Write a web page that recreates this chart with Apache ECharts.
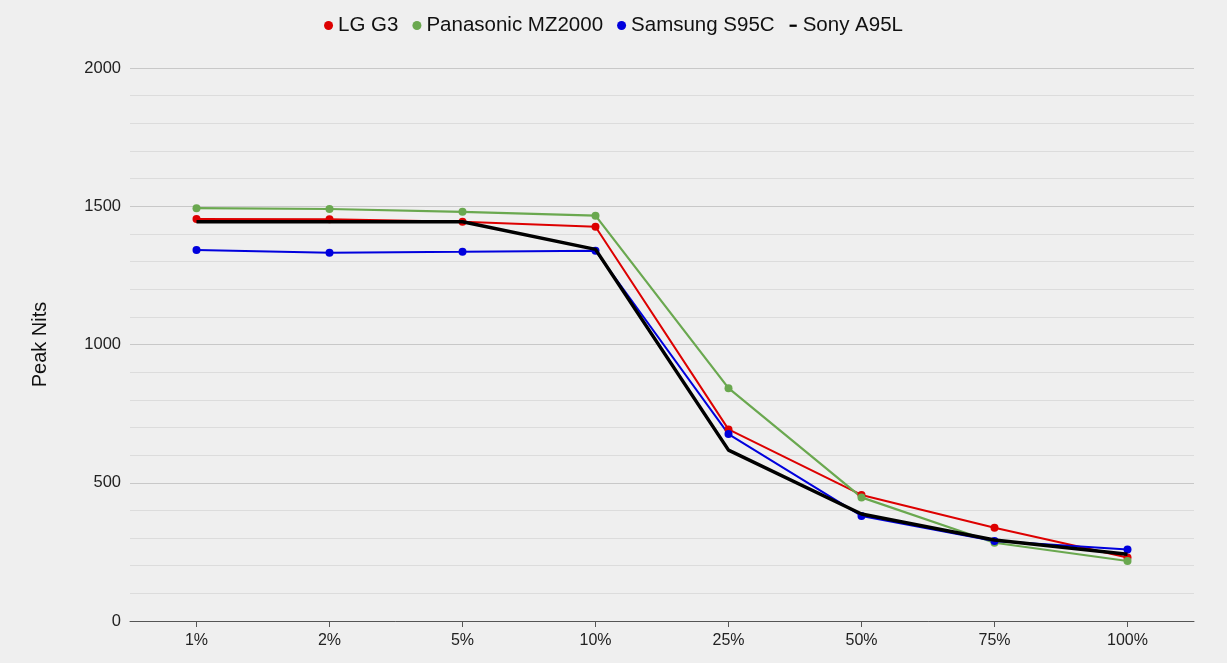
<!DOCTYPE html>
<html><head><meta charset="utf-8">
<script src="https://cdn.jsdelivr.net/npm/echarts@6/dist/echarts.min.js"></script>
<style>html,body{margin:0;padding:0;background:#efefef;}#c{width:1227px;height:663px;}</style>
</head><body><div id="c"></div>
<script>
const categories = ['1%','2%','5%','10%','25%','50%','75%','100%'];
const lgG3 = [1454,1453,1444,1426,693,456,337,230];
const panasonicMZ2000 = [1493,1490,1480,1466,842,447,283,217];
const samsungS95C = [1342,1332,1335,1339,676,380,289,259];
const sonyA95L = [1444,1444,1444,1344,618,387,293,241];
const yTicks = [0,500,1000,1500,2000];

const chart = echarts.init(document.getElementById('c'));
function s(name, data, color, width, marker){
  return {name, type:'line', data, symbol: marker?'circle':'none', symbolSize:8,
    showSymbol: marker, lineStyle:{color, width}, itemStyle:{color}, z: marker?3:4};
}
chart.setOption({
  backgroundColor:'#efefef',
  animation:false,
  legend:{top:10, left:'center', itemWidth:9, itemHeight:9, itemGap:14,
    textStyle:{fontFamily:'Liberation Sans, Arial', fontSize:20.5, color:'#111'},
    data:[{name:'LG G3',icon:'circle'},{name:'Panasonic MZ2000',icon:'circle'},{name:'Samsung S95C',icon:'circle'},
      {name:'Sony A95L',icon:'path://M0,0M10,10M1,4H9V6.5H1Z'}]},
  grid:{left:130,right:33,top:68,bottom:42},
  xAxis:{type:'category', data:categories, boundaryGap:true,
    axisLine:{show:true,lineStyle:{color:'#555',width:1}},
    axisTick:{show:true,alignWithLabel:true,length:6,lineStyle:{color:'#555'}},
    axisLabel:{fontFamily:'Liberation Sans, Arial',fontSize:16,color:'#222',margin:12}},
  yAxis:{type:'value', min:0, max:2000, interval:500, name:'Peak Nits', nameLocation:'middle', nameGap:80,
    nameTextStyle:{fontFamily:'Liberation Sans, Arial',fontSize:20,color:'#111'},
    axisLine:{show:false}, axisTick:{show:false},
    axisLabel:{fontFamily:'Liberation Sans, Arial',fontSize:16.5,color:'#222',margin:9,
      formatter:v=>yTicks.includes(v)?String(v):''},
    splitLine:{lineStyle:{color:'#c8c8c8'}},
    minorTick:{show:false, splitNumber:5},
    minorSplitLine:{show:true,lineStyle:{color:'#dcdcdc'}}},
  series:[
    s('LG G3', lgG3, '#dd0000', 2, true),
    s('Panasonic MZ2000', panasonicMZ2000, '#6aa84f', 2.2, true),
    s('Samsung S95C', samsungS95C, '#0000dd', 2, true),
    s('Sony A95L', sonyA95L, '#000000', 3.5, false)
  ]
});
</script></body></html>
